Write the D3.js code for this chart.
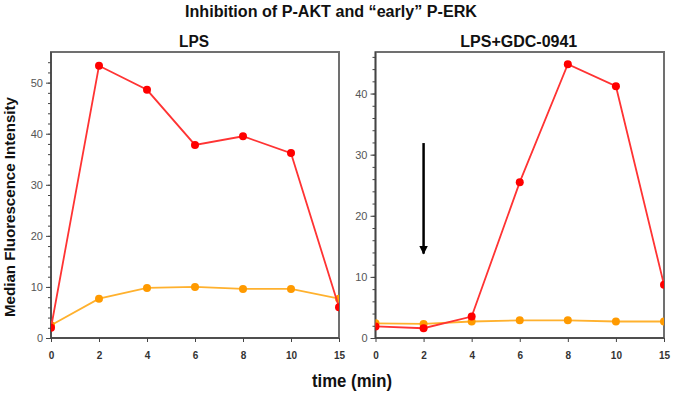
<!doctype html>
<html>
<head>
<script src="https://cdn.jsdelivr.net/npm/d3@7"></script>
<style>
  body { margin: 0; background: #fff; }
  svg { display: block; font-family: "Liberation Sans", Arial, sans-serif; }
  .tick line { stroke: #444; }
  .ylab .tick text { fill: #555; font-size: 11px; }
  .xlab .tick text { fill: #333; font-size: 10px; font-weight: bold; }
</style>
</head>
<body>
<svg width="676" height="397"></svg>
<script>
// time points (categorical, evenly spaced)
var times = ["0", "2", "4", "6", "8", "10", "15"];

// LPS panel
var lpsRed    = [2.0, 53.3, 48.6, 37.8, 39.5, 36.2, 6.0];
var lpsOrange = [2.5, 7.7, 9.8, 10.0, 9.6, 9.6, 7.7];

// LPS+GDC-0941 panel
var gdcRed    = [1.9, 1.6, 3.5, 25.5, 44.8, 41.2, 8.7];
var gdcOrange = [2.4, 2.3, 2.7, 2.9, 2.9, 2.7, 2.7];

var yTicksLps = [0, 10, 20, 30, 40, 50];
var yTicksGdc = [0, 10, 20, 30, 40];

// arrow in second panel: at time "2", from y=31.9 down to 13.8
var arrowAt = "2", arrowFrom = 31.9, arrowTo = 13.8;

var svg = d3.select("svg");

svg.append("defs").append("marker")
  .attr("id", "head")
  .attr("viewBox", "0 0 10 10")
  .attr("refX", 9).attr("refY", 5)
  .attr("markerWidth", 3.4).attr("markerHeight", 3.4)
  .attr("orient", "auto")
  .append("path").attr("d", "M0,0L10,5L0,10Z").attr("fill", "#000");

var plotTop = 52, plotBottom = 338;

function panel(id, x0, x1, yMax, yTicks, red, orange, title, titleW) {
  var x = d3.scalePoint().domain(times).range([x0, x1]).padding(0);
  var y = d3.scaleLinear().domain([0, yMax]).range([plotBottom, plotTop]);
  var g = svg.append("g");

  g.append("clipPath").attr("id", "clip" + id)
    .append("rect").attr("x", x0).attr("y", plotTop).attr("width", x1 - x0).attr("height", plotBottom - plotTop);

  // frame
  g.append("rect")
    .attr("x", x0).attr("y", plotTop).attr("width", x1 - x0).attr("height", plotBottom - plotTop)
    .attr("fill", "none").attr("stroke", "#707070").attr("stroke-width", 2);

  // minor y ticks
  g.append("g").attr("transform", "translate(" + x0 + ",0)")
    .call(d3.axisLeft(y).tickValues(d3.range(0, yMax, 2)).tickSize(3).tickFormat(""))
    .call(function(s) { s.select(".domain").remove(); });

  // major y ticks
  g.append("g").attr("class", "ylab").attr("transform", "translate(" + x0 + ",0)")
    .call(d3.axisLeft(y).tickValues(yTicks).tickSize(5).tickPadding(3))
    .call(function(s) { s.select(".domain").remove(); });

  // x axis
  g.append("g").attr("class", "xlab").attr("transform", "translate(0," + plotBottom + ")")
    .call(d3.axisBottom(x).tickSize(4).tickPadding(10))
    .call(function(s) { s.select(".domain").remove(); });

  // axis lines
  g.append("line").attr("x1", x0).attr("x2", x0).attr("y1", plotTop).attr("y2", plotBottom)
    .attr("stroke", "#444").attr("stroke-width", 1.5);
  g.append("line").attr("x1", x0).attr("x2", x1).attr("y1", plotBottom).attr("y2", plotBottom)
    .attr("stroke", "#444").attr("stroke-width", 1.5);

  var plot = g.append("g").attr("clip-path", "url(#clip" + id + ")");
  var line = d3.line().x(function(d, i) { return x(times[i]); }).y(function(d) { return y(d); });

  [[orange, "#ffb12e", "#ff9a00"], [red, "#ff3333", "#ff0000"]].forEach(function(s) {
    plot.append("path").datum(s[0])
      .attr("d", line).attr("fill", "none")
      .attr("stroke", s[1]).attr("stroke-width", 1.8);
    plot.selectAll(null).data(s[0]).enter().append("circle")
      .attr("cx", function(d, i) { return x(times[i]); })
      .attr("cy", function(d) { return y(d); })
      .attr("r", 4).attr("fill", s[2]);
  });

  g.append("text").attr("x", (x0 + x1) / 2 - 1).attr("y", 47)
    .attr("text-anchor", "middle").attr("font-size", 16).attr("font-weight", "bold")
    .attr("fill", "#111").attr("textLength", titleW).attr("lengthAdjust", "spacingAndGlyphs")
    .text(title);

  return { x: x, y: y, g: g };
}

var left = panel("a", 51, 339, 56, yTicksLps, lpsRed, lpsOrange, "LPS", 30);
var right = panel("b", 375.5, 664, 46.8, yTicksGdc, gdcRed, gdcOrange, "LPS+GDC-0941", 117);

right.g.append("line")
  .attr("x1", right.x(arrowAt)).attr("x2", right.x(arrowAt))
  .attr("y1", right.y(arrowFrom)).attr("y2", right.y(arrowTo))
  .attr("stroke", "#000").attr("stroke-width", 2.5)
  .attr("marker-end", "url(#head)");

svg.append("text").attr("x", 331).attr("y", 17)
  .attr("text-anchor", "middle").attr("font-size", 16).attr("font-weight", "bold")
  .attr("fill", "#111").attr("textLength", 292).attr("lengthAdjust", "spacingAndGlyphs")
  .text("Inhibition of P-AKT and \u201cearly\u201d P-ERK");

svg.append("text").attr("x", 352).attr("y", 387)
  .attr("text-anchor", "middle").attr("font-size", 18).attr("font-weight", "bold")
  .attr("fill", "#111").attr("textLength", 80).attr("lengthAdjust", "spacingAndGlyphs")
  .text("time (min)");

svg.append("text").attr("transform", "translate(15,207) rotate(-90)")
  .attr("text-anchor", "middle").attr("font-size", 15).attr("font-weight", "bold")
  .attr("fill", "#111").attr("textLength", 220).attr("lengthAdjust", "spacingAndGlyphs")
  .text("Median Fluorescence Intensity");
</script>
</body>
</html>
